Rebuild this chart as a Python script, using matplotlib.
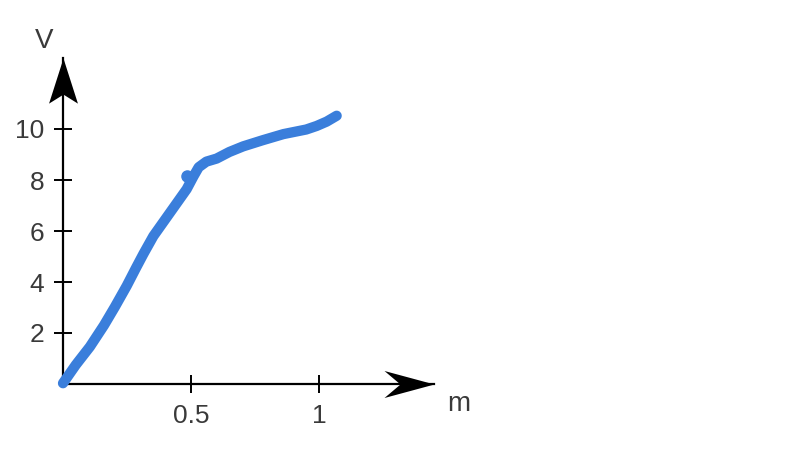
import matplotlib.pyplot as plt
from matplotlib.path import Path
from matplotlib.transforms import Affine2D

# values (m on x, V on y)
m = [0.0, 0.05, 0.105, 0.16, 0.203, 0.249, 0.285, 0.314, 0.353, 0.418, 0.483,
     0.51, 0.53, 0.56, 0.60, 0.65, 0.704, 0.78, 0.861, 0.95, 0.991, 1.03, 1.069]
V = [0.03, 0.75, 1.46, 2.3, 3.03, 3.85, 4.55, 5.1, 5.8, 6.72, 7.64,
     8.15, 8.5, 8.72, 8.84, 9.1, 9.32, 9.56, 9.8, 9.98, 10.12, 10.29, 10.52]

# small pen blob next to the knee
dot_m = [0.483]
dot_V = [8.16]

x_ticks = [0.5, 1]
x_ticklabels = ['0.5', '1']
y_ticks = [2, 4, 6, 8, 10]
y_ticklabels = ['2', '4', '6', '8', '10']

blue = '#3a7edb'
text_col = '#3a3a3a'

plt.rcParams['font.family'] = ['Liberation Sans', 'DejaVu Sans']

fig = plt.figure(figsize=(8, 4.57), dpi=100)
# axes box: origin at (63, 384) px, ends at arrow tips (434, 58) px
ax = fig.add_axes([63 / 800, (457 - 384) / 457, (434 - 63) / 800, (384 - 58) / 457])
ax.set_xlim(0, (434 - 63) / 256)
ax.set_ylim(0, (384 - 58) / 25.5)

ax.plot(m, V, color=blue, lw=7.4, solid_capstyle='round', solid_joinstyle='round',
        clip_on=False, zorder=3)
ax.plot(dot_m, dot_V, 'o', color=blue, ms=8, clip_on=False, zorder=3)

for side in ['top', 'right']:
    ax.spines[side].set_visible(False)
for side in ['left', 'bottom']:
    ax.spines[side].set_linewidth(1.6)
    ax.spines[side].set_color('black')

ax.set_xticks(x_ticks, x_ticklabels)
ax.set_yticks(y_ticks, y_ticklabels)
ax.tick_params(direction='inout', length=13, width=1.4, color='black',
               labelsize=19, labelcolor=text_col)
ax.tick_params(axis='x', pad=8)
ax.tick_params(axis='y', pad=7)

# stealth-like arrow heads at the ends of both axes
head_x = Path([(0, 0), (-1, 0.27), (-0.68, 0), (-1, -0.27), (0, 0)],
              [Path.MOVETO, Path.LINETO, Path.LINETO, Path.LINETO, Path.CLOSEPOLY])
ax.plot(1, 0, marker=head_x, ms=72, color='black', mec='black', mew=0,
        transform=ax.transAxes, clip_on=False)
head_y = Path([(0, 0), (-1, 0.32), (-0.8, 0), (-1, -0.32), (0, 0)],
              [Path.MOVETO, Path.LINETO, Path.LINETO, Path.LINETO, Path.CLOSEPOLY])
head_y = head_y.transformed(Affine2D().rotate_deg(90))
ax.plot(0, 1, marker=head_y, ms=65, color='black', mec='black', mew=0,
        transform=ax.transAxes, clip_on=False)

fig.text(44 / 800, 1 - 41 / 457, 'V', ha='center', va='center', fontsize=20, color=text_col)
fig.text(459 / 800, 1 - 404 / 457, 'm', ha='center', va='center', fontsize=20, color=text_col)

plt.savefig('out.png', dpi=100)
